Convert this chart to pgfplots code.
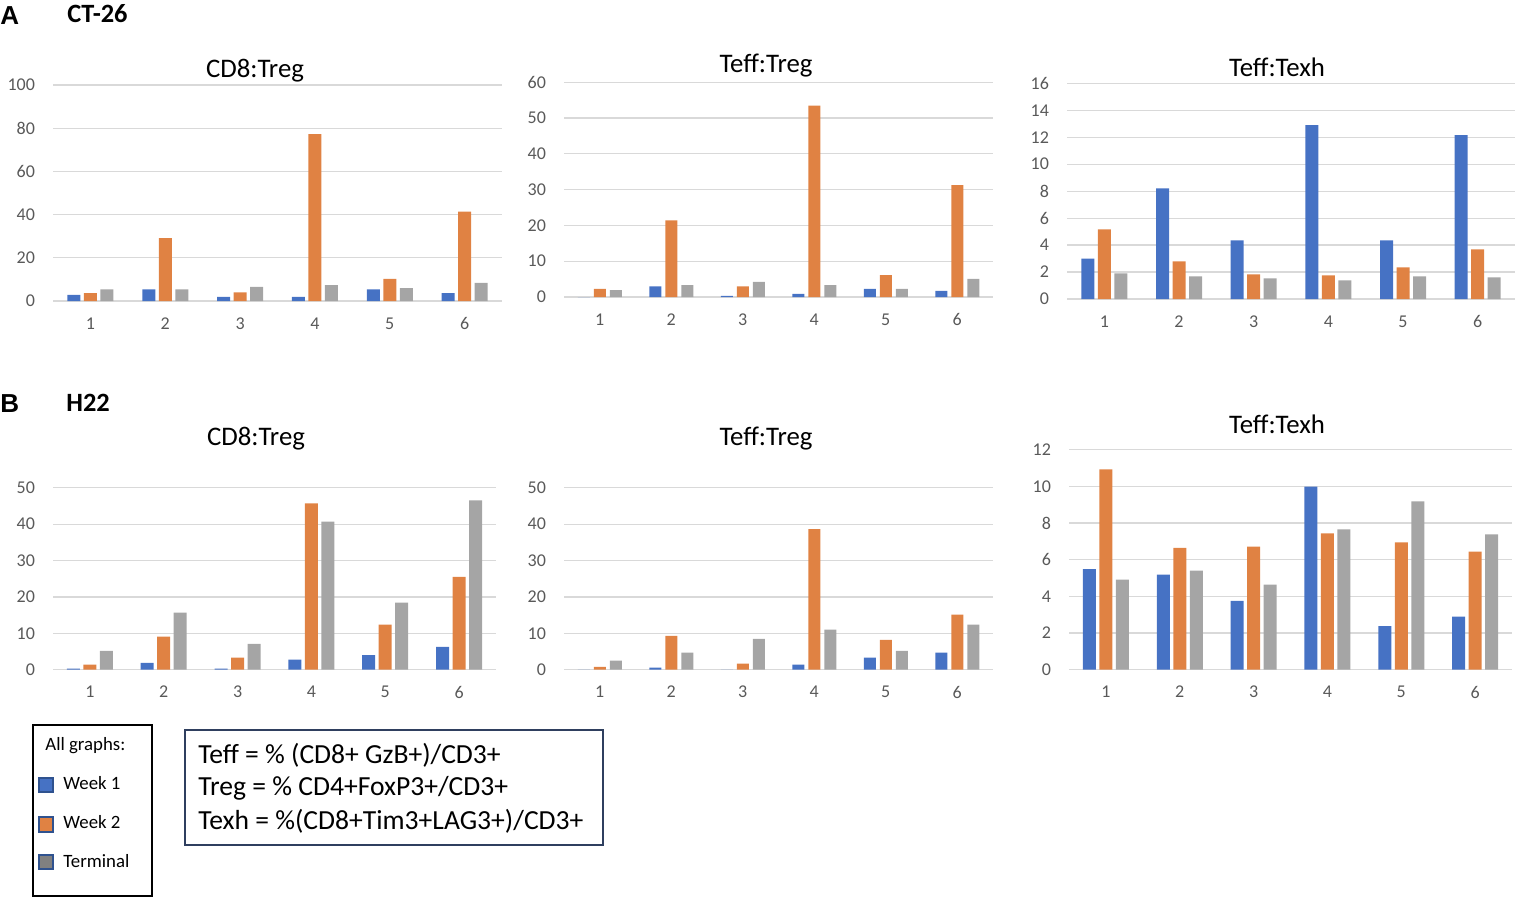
\documentclass[border=0pt]{standalone}
\usepackage{fontspec}
\setmainfont{Carlito}
\newfontfamily\arialfont{Liberation Sans}
\usepackage{pgfplots}
\pgfplotsset{compat=1.18}
\definecolor{wk1}{HTML}{4672C4}
\definecolor{wk2}{HTML}{E08243}
\definecolor{term}{HTML}{A5A5A5}
\definecolor{gridc}{HTML}{D9D9D9}
\definecolor{tickc}{HTML}{595959}
\definecolor{sqborder}{HTML}{2F528F}
\definecolor{boxborder}{HTML}{2F3F5F}
\pgfplotsset{
 panel/.style={
  scale only axis, anchor=south west,
  xmin=0.5, xmax=6.5, ymin=0,
  xtick={1,2,3,4,5,6},
  axis line style={draw=none},
  tick style={draw=none},
  ymajorgrids, grid style={gridc, line width=0.6pt},
  ybar=1.75pt, bar width=6.5pt,
  ticklabel style={font=\fontsize{9}{10}\selectfont, text=tickc},
  /pgf/number format/assume math mode=true,
  xticklabel style={yshift=-0.5pt},
  yticklabel style={xshift=-5.5pt},
  clip=false,
 }
}
\begin{document}
\begin{tikzpicture}
\path[use as bounding box] (0,0) rectangle (759pt,-449.5pt);

% ---------- A: CT-26 ----------
\begin{axis}[panel, at={(26.5pt,-150.5pt)}, width=224.5pt, height=108pt,
  ymax=100, ytick={0,20,...,100}]
\addplot[fill=wk1, draw=none] coordinates {(1,2.8) (2,5.4) (3,1.9) (4,1.9) (5,5.4) (6,3.6)};
\addplot[fill=wk2, draw=none] coordinates {(1,3.6) (2,29.1) (3,4.0) (4,77.2) (5,10.2) (6,41.4)};
\addplot[fill=term, draw=none] coordinates {(1,5.4) (2,5.4) (3,6.5) (4,7.4) (5,6.0) (6,8.4)};
\end{axis}

\begin{axis}[panel, at={(282pt,-148.5pt)}, width=214.5pt, height=107.35pt,
  ymax=60, ytick={0,10,...,60}, bar width=6pt, ybar=2pt]
\addplot[fill=wk1, draw=none] coordinates {(1,0) (2,3.0) (3,0.3) (4,0.85) (5,2.3) (6,1.7)};
\addplot[fill=wk2, draw=none] coordinates {(1,2.3) (2,21.4) (3,3.0) (4,53.5) (5,6.1) (6,31.3)};
\addplot[fill=term, draw=none] coordinates {(1,1.9) (2,3.3) (3,4.2) (4,3.3) (5,2.3) (6,5.1)};
\end{axis}

\begin{axis}[panel, at={(533.5pt,-149.5pt)}, width=224pt, height=107.85pt,
  ymax=16, ytick={0,2,...,16}]
\addplot[fill=wk1, draw=none] coordinates {(1,3.0) (2,8.2) (3,4.35) (4,12.9) (5,4.35) (6,12.15)};
\addplot[fill=wk2, draw=none] coordinates {(1,5.17) (2,2.8) (3,1.83) (4,1.76) (5,2.35) (6,3.69)};
\addplot[fill=term, draw=none] coordinates {(1,1.9) (2,1.68) (3,1.53) (4,1.39) (5,1.68) (6,1.61)};
\end{axis}

% ---------- B: H22 ----------
\begin{axis}[panel, at={(26.5pt,-334.85pt)}, width=221.5pt, height=91pt,
  ymax=50, ytick={0,10,...,50}]
\addplot[fill=wk1, draw=none] coordinates {(1,0.3) (2,1.9) (3,0.3) (4,2.75) (5,4.0) (6,6.3)};
\addplot[fill=wk2, draw=none] coordinates {(1,1.4) (2,9.1) (3,3.3) (4,45.7) (5,12.4) (6,25.5)};
\addplot[fill=term, draw=none] coordinates {(1,5.2) (2,15.7) (3,7.1) (4,40.7) (5,18.4) (6,46.5)};
\end{axis}

\begin{axis}[panel, at={(282pt,-334.85pt)}, width=214.5pt, height=91pt,
  ymax=50, ytick={0,10,...,50}, bar width=6pt, ybar=2pt]
\addplot[fill=wk1, draw=none] coordinates {(1,0) (2,0.55) (3,0) (4,1.4) (5,3.3) (6,4.7)};
\addplot[fill=wk2, draw=none] coordinates {(1,0.8) (2,9.3) (3,1.65) (4,38.6) (5,8.2) (6,15.1)};
\addplot[fill=term, draw=none] coordinates {(1,2.5) (2,4.7) (3,8.5) (4,11.0) (5,5.2) (6,12.4)};
\end{axis}

\begin{axis}[panel, at={(534.5pt,-334.85pt)}, width=221.5pt, height=110pt,
  ymax=12, ytick={0,2,...,12}]
\addplot[fill=wk1, draw=none] coordinates {(1,5.49) (2,5.18) (3,3.76) (4,9.98) (5,2.38) (6,2.89)};
\addplot[fill=wk2, draw=none] coordinates {(1,10.93) (2,6.65) (3,6.71) (4,7.44) (5,6.95) (6,6.44)};
\addplot[fill=term, draw=none] coordinates {(1,4.91) (2,5.4) (3,4.64) (4,7.65) (5,9.18) (6,7.38)};
\end{axis}

\begin{scope}[x=0.5pt,y=-0.5pt]
% panel letters
\node[anchor=base west, inner sep=0, font=\arialfont\bfseries\fontsize{13}{15}\selectfont] at (0,25) {A};
\node[anchor=base west, inner sep=0, font=\bfseries\fontsize{13.2}{15}\selectfont] at (67,23) {CT-26};
\node[anchor=base west, inner sep=0, font=\arialfont\bfseries\fontsize{13}{15}\selectfont] at (0,412) {B};
\node[anchor=base west, inner sep=0, font=\bfseries\fontsize{13.2}{15}\selectfont] at (66,411) {H22};
% titles
\tikzset{ttl/.style={anchor=base, inner sep=0, font=\fontsize{13.4}{15}\selectfont}}
\node[ttl] at (255,77) {CD8:Treg};
\node[ttl] at (766,73) {Teff:Treg};
\node[ttl] at (1277,76) {Teff:Texh};
\node[ttl] at (256,445) {CD8:Treg};
\node[ttl] at (766,445) {Teff:Treg};
\node[ttl] at (1277,433) {Teff:Texh};
% legend box
\draw[black, line width=0.6pt] (33,725) rectangle (152,896);
\tikzset{lg/.style={anchor=base west, inner sep=0, font=\fontsize{9.4}{11}\selectfont}}
\node[lg] at (45,750) {All graphs:};
\draw[sqborder, line width=0.6pt, fill=wk1] (39,778) rectangle (53,792);
\node[lg] at (63,789) {Week 1};
\draw[sqborder, line width=0.6pt, fill=wk2] (39,817) rectangle (53,832);
\node[lg] at (63,828) {Week 2};
\draw[sqborder, line width=0.6pt, fill=gray] (39,855) rectangle (53,869);
\node[lg] at (63,867) {Terminal};
% definitions box
\draw[boxborder, line width=0.8pt] (185,730) rectangle (603,845);
\tikzset{df/.style={anchor=base west, inner sep=0, font=\fontsize{13.8}{16}\selectfont}}
\node[df] at (198,763) {Teff = \% (CD8+ GzB+)/CD3+};
\node[df] at (198,795) {Treg = \% CD4+FoxP3+/CD3+};
\node[df] at (198,829) {Texh = \%(CD8+Tim3+LAG3+)/CD3+};
\end{scope}
\end{tikzpicture}
\end{document}
